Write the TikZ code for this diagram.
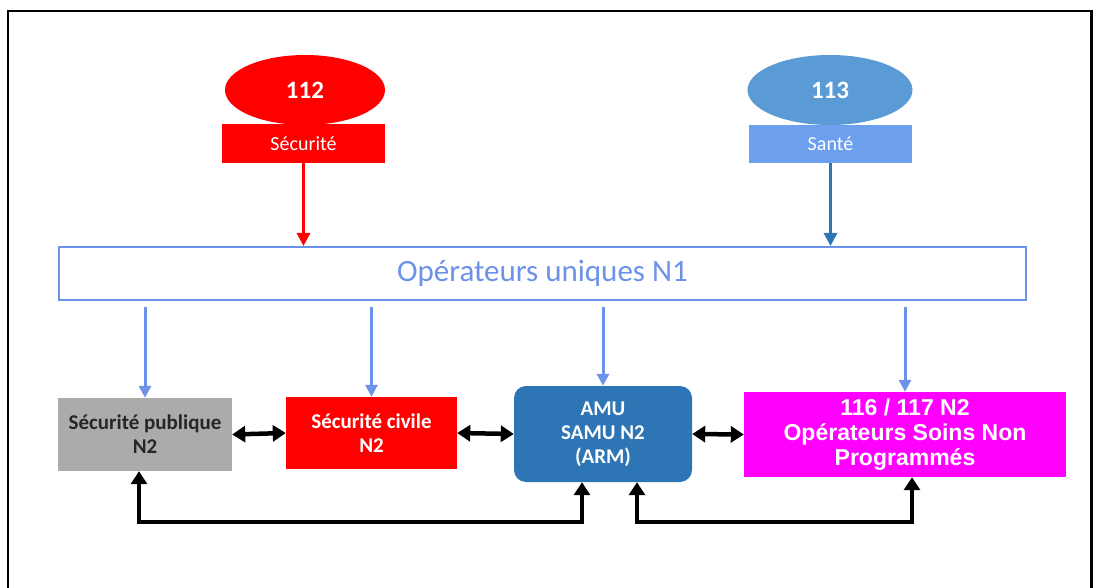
\documentclass[tikz,border=0pt]{standalone}
\usepackage{fontspec}
\setmainfont{Carlito}
\newfontfamily\arialfont{Liberation Sans}
\usetikzlibrary{arrows.meta,shapes.geometric}

\definecolor{secred}{RGB}{255,0,0}
\definecolor{santeblue}{RGB}{91,155,213}
\definecolor{santelight}{RGB}{108,160,238}
\definecolor{darkblue}{RGB}{46,117,182}
\definecolor{nblue}{RGB}{108,146,234}
\definecolor{boxgray}{RGB}{171,171,171}
\definecolor{magentabox}{RGB}{255,0,255}

\begin{document}
\begin{tikzpicture}[x=1pt,y=-1pt,
    callbubble/.style={ellipse,inner sep=0pt,text=white,font=\fontsize{25}{28}\selectfont\bfseries},
    calltag/.style={rectangle,inner sep=0pt,text=white,font=\fontsize{20}{24}\selectfont},
    levelbox/.style={rectangle,inner sep=0pt,align=center,font=\fontsize{21}{24}\selectfont\bfseries},
    downarrow/.style={draw=nblue,line width=3pt,-{Triangle[length=12pt,width=12pt]},shorten <=6pt},
    linkarrow/.style={draw=black,line width=4.5pt,{Triangle[length=13pt,width=16pt]}-{Triangle[length=13pt,width=16pt]}}]
    \useasboundingbox (0,0) rectangle (1093,588);
    % frame
    \draw[line width=2.5pt] (8,590) -- (8,11) -- (1091.5,11) -- (1091.5,590);

    % numeros d'appel
    \node[callbubble,fill=secred,minimum width=160pt,minimum height=70pt] (e112) at (305,90) {112};
    \node[calltag,fill=secred,minimum width=163pt,minimum height=39pt] (secu) at (303.5,143.5) {Sécurité};
    \node[callbubble,fill=santeblue,minimum width=165pt,minimum height=70pt] (e113) at (830,90) {113};
    \node[calltag,fill=santelight,minimum width=163pt,minimum height=38pt] (sante) at (830.5,144) {Santé};

    % niveau 1
    \node[draw=nblue,line width=2pt,fill=white,minimum width=967pt,minimum height=53pt,inner sep=0pt,
          text=nblue,font=\fontsize{31}{34}\selectfont] (n1) at (542.5,273.5) {Opérateurs uniques N1};

    % niveau 2
    \node[levelbox,fill=boxgray,text=black!85,minimum width=174pt,minimum height=73pt] (secpub) at (145,434.5)
        {Sécurité publique\\N2};
    \node[levelbox,fill=secred,text=white,minimum width=171pt,minimum height=72pt] (seccivil) at (371.5,433)
        {Sécurité civile\\N2};
    \node[levelbox,fill=darkblue,text=white,rounded corners=12pt,minimum width=178pt,minimum height=96pt] (amu) at (603,434)
        {AMU\\SAMU N2\\(ARM)};
    \node[levelbox,fill=magentabox,text=white,minimum width=322pt,minimum height=85pt,
          font=\arialfont\fontsize{23}{25}\selectfont\bfseries] (snp) at (905,434.5)
        {116 / 117 N2\\Opérateurs Soins Non\\Programmés};

    % entrees
    \draw[secred,line width=3pt,-{Triangle[length=13pt,width=13pt]}] (secu.south) -- (secu.south |- n1.north);
    \draw[darkblue,line width=3pt,-{Triangle[length=13pt,width=13pt]}] (sante.south) -- (sante.south |- n1.north);

    % repartition
    \foreach \n in {secpub,seccivil,amu,snp}
        \draw[downarrow] (\n.north |- n1.south) -- (\n.north);

    % liaisons
    \draw[linkarrow] (secpub.east) -- (seccivil.west);
    \draw[linkarrow] (seccivil.east) -- (amu.west);
    \draw[linkarrow] (amu.east) -- (snp.west);
    \draw[linkarrow] ([xshift=-21pt]amu.south) -- ++(0,40) -| ([xshift=-6pt]secpub.south);
    \draw[linkarrow] ([xshift=34pt]amu.south) -- ++(0,40) -| ([xshift=7pt]snp.south);
\end{tikzpicture}
\end{document}
